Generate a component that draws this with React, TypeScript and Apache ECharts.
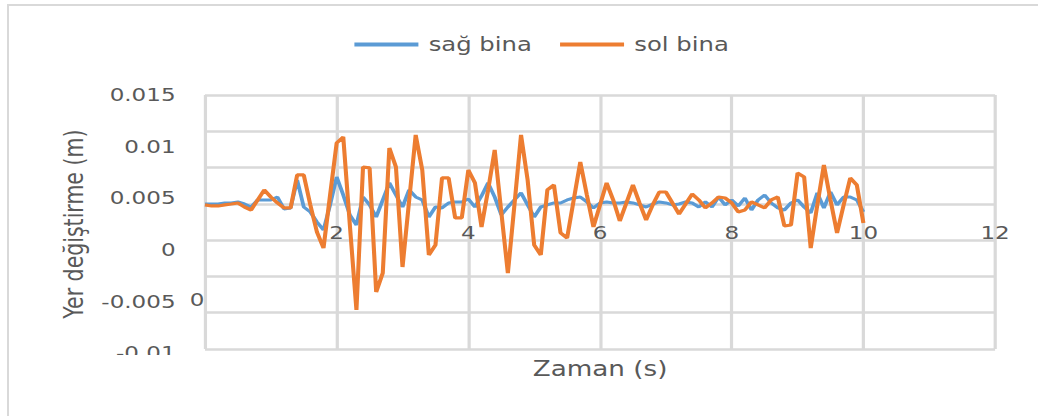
import React, { useEffect, useRef } from "react";
import * as echarts from "echarts";

const TIME = [
  0, 0.1, 0.2, 0.3, 0.4, 0.5, 0.6, 0.7, 0.8, 0.9,
  1, 1.1, 1.2, 1.3, 1.4, 1.5, 1.6, 1.7, 1.8, 1.9,
  2, 2.1, 2.2, 2.3, 2.4, 2.5, 2.6, 2.7, 2.8, 2.9,
  3, 3.1, 3.2, 3.3, 3.4, 3.5, 3.6, 3.7, 3.8, 3.9,
  4, 4.1, 4.2, 4.3, 4.4, 4.5, 4.6, 4.7, 4.8, 4.9,
  5, 5.1, 5.2, 5.3, 5.4, 5.5, 5.6, 5.7, 5.8, 5.9,
  6, 6.1, 6.2, 6.3, 6.4, 6.5, 6.6, 6.7, 6.8, 6.9,
  7, 7.1, 7.2, 7.3, 7.4, 7.5, 7.6, 7.7, 7.8, 7.9,
  8, 8.1, 8.2, 8.3, 8.4, 8.5, 8.6, 8.7, 8.8, 8.9,
  9, 9.1, 9.2, 9.3, 9.4, 9.5, 9.6, 9.7, 9.8, 9.9,
  10,
];

const SAG_BINA = [
  0.00445, 0.00445, 0.00445, 0.00455, 0.00455, 0.00465, 0.00445, 0.00416, 0.00484, 0.00484,
  0.00484, 0.00513, 0.00397, 0.00407, 0.00678, 0.00416, 0.00368, 0.00271, 0.00194, 0.00436,
  0.00707, 0.00532, 0.00339, 0.00242, 0.00513, 0.00436, 0.00319, 0.00484, 0.00649, 0.00532,
  0.00416, 0.00581, 0.00513, 0.00484, 0.00319, 0.00416, 0.00407, 0.00455, 0.00465, 0.00465,
  0.00494, 0.00416, 0.00523, 0.00649, 0.00513, 0.00339, 0.00416, 0.00484, 0.00552, 0.00436,
  0.00319, 0.00416, 0.00436, 0.00455, 0.00455, 0.00484, 0.00503, 0.00513, 0.00465, 0.00407,
  0.00455, 0.00465, 0.00455, 0.00455, 0.00465, 0.00455, 0.00436, 0.00416, 0.00445, 0.00465,
  0.00455, 0.00436, 0.00445, 0.00465, 0.00455, 0.00416, 0.00465, 0.00416, 0.00513, 0.00436,
  0.00484, 0.00426, 0.00503, 0.00387, 0.00484, 0.00532, 0.00455, 0.00407, 0.00387, 0.00455,
  0.00484, 0.00416, 0.00358, 0.00552, 0.00407, 0.00561, 0.00436, 0.00513, 0.00513, 0.00484,
  0.00368,
];

const SOL_BINA = [
  0.00436, 0.00426, 0.00426, 0.00436, 0.00445, 0.00455, 0.00416, 0.00387, 0.00484, 0.00581,
  0.00513, 0.00455, 0.00407, 0.00407, 0.00726, 0.00726, 0.00436, 0.00174, 0.00019, 0.00532,
  0.01036, 0.01094, 0.00242, -0.00581, 0.00803, 0.00794, -0.00407, -0.00223, 0.00987, 0.00803,
  -0.00165, 0.00474, 0.01113, 0.00774, -0.00048, 0.00048, 0.00697, 0.00697, 0.0031, 0.0031,
  0.00774, 0.00649, 0.00223, 0.00581, 0.00968, 0.00368, -0.00223, 0.00436, 0.01113, 0.00678,
  0.00048, -0.00048, 0.00581, 0.00629, 0.00165, 0.00116, 0.00484, 0.00852, 0.00532, 0.00223,
  0.00436, 0.00649, 0.00484, 0.00281, 0.00455, 0.00629, 0.00455, 0.0029, 0.00436, 0.00561,
  0.00561, 0.00455, 0.00348, 0.00445, 0.00542, 0.00484, 0.00407, 0.00455, 0.00513, 0.00503,
  0.00455, 0.00368, 0.00387, 0.00465, 0.00436, 0.00407, 0.00484, 0.00513, 0.00232, 0.00242,
  0.00745, 0.00707, 0.00019, 0.00436, 0.00823, 0.00484, 0.00165, 0.00436, 0.00697, 0.00629,
  0.00261,
];

const SERIES_NAMES = ["sağ bina", "sol bina"];
const Y_TICK_LABELS = ["-0.01", "-0.005", "0", "0.005", "0.01", "0.015"];
const X_TICK_LABELS = ["0", "2", "4", "6", "8", "10", "12"];
const X_TITLE = "Zaman (s)";
const Y_TITLE = "Yer değiştirme (m)";

const SX = 1.28;
const PAGE_W = 1038;
const PAGE_H = 416;
const W = PAGE_W / SX;

export default function App() {
  const ref = useRef<HTMLDivElement>(null);
  useEffect(() => {
    if (!ref.current) return;
    const chart = echarts.init(ref.current, undefined, { renderer: "svg" });
    const font = "'DejaVu Sans', sans-serif";
    const textColor = "#595959";
    const gridColor = "#d9d9d9";
    const gridLeft = 205 / SX;
    const gridRight = W - 995 / SX;
    chart.setOption({
      animation: false,
      textStyle: { fontFamily: font },
      legend: {
        left: 348 / SX,
        top: 30,
        itemWidth: 50,
        itemHeight: 4,
        itemGap: 22,
        icon: "rect",
        data: SERIES_NAMES,
        textStyle: { fontSize: 19, color: textColor, fontFamily: font, padding: [0, 0, 0, 3] },
      },
      grid: [
        { left: gridLeft, right: gridRight, top: 95, height: 258.3 },
        { left: gridLeft, right: gridRight, top: 95, height: 254 },
      ],
      xAxis: [
        {
          gridIndex: 0,
          type: "value",
          min: 0,
          max: 12,
          interval: 2,
          axisLine: { show: false },
          axisTick: { show: false },
          axisLabel: { show: false },
          splitLine: { show: false },
          name: X_TITLE,
          nameLocation: "middle",
          nameGap: 5,
          nameTextStyle: { fontSize: 20.5, color: textColor, fontFamily: font },
        },
        {
          gridIndex: 1,
          type: "value",
          min: 0,
          max: 12,
          interval: 2,
          offset: -133,
          axisLine: { show: false },
          axisTick: { show: false },
          axisLabel: {
            margin: 8,
            fontSize: 18,
            color: textColor,
            fontFamily: font,
            formatter: (v: number) => (v === 0 ? "" : X_TICK_LABELS[Math.round(v / 2)]),
          },
          splitLine: { show: true, lineStyle: { color: gridColor, width: 2.5 } },
        },
      ],
      yAxis: [
        {
          gridIndex: 0,
          type: "value",
          min: -0.01,
          max: 0.015,
          interval: 0.005,
          axisLine: { show: false },
          axisTick: { show: false },
          splitLine: { show: false },
          axisLabel: {
            margin: 23,
            fontSize: 18,
            color: textColor,
            fontFamily: font,
            formatter: (v: number) => Y_TICK_LABELS[Math.round((v + 0.01) / 0.005)],
          },
          name: Y_TITLE,
          nameLocation: "middle",
          nameGap: 92,
          nameTextStyle: { fontSize: 20.5, color: textColor, fontFamily: font },
        },
        {
          gridIndex: 1,
          type: "value",
          min: 0,
          max: 7,
          interval: 1,
          axisLine: { show: false },
          axisTick: { show: false },
          axisLabel: { show: false },
          splitLine: { show: true, lineStyle: { color: gridColor, width: 2.5 } },
        },
      ],
      series: [
        {
          name: SERIES_NAMES[0],
          type: "line",
          xAxisIndex: 0,
          yAxisIndex: 0,
          showSymbol: false,
          symbol: "none",
          data: TIME.map((t, i) => [t, SAG_BINA[i]]),
          itemStyle: { color: "#5b9bd5" },
          lineStyle: { color: "#5b9bd5", width: 3 },
          z: 3,
        },
        {
          name: SERIES_NAMES[1],
          type: "line",
          xAxisIndex: 0,
          yAxisIndex: 0,
          showSymbol: false,
          symbol: "none",
          data: TIME.map((t, i) => [t, SOL_BINA[i]]),
          itemStyle: { color: "#ed7d31" },
          lineStyle: { color: "#ed7d31", width: 3.2 },
          z: 4,
        },
      ],
      graphic: [
        {
          type: "text",
          x: 197 / SX,
          y: 300,
          z: 50,
          style: {
            text: X_TICK_LABELS[0],
            fontSize: 18,
            fontFamily: font,
            fill: textColor,
            align: "center",
            verticalAlign: "middle",
          },
        },
        {
          type: "rect",
          z: 100,
          shape: { x: 70, y: 355, width: 88, height: 22 },
          style: { fill: "#ffffff" },
        },
      ],
    });
    return () => chart.dispose();
  }, []);
  return (
    <div
      style={{
        position: "fixed",
        left: 0,
        top: 0,
        width: PAGE_W,
        height: PAGE_H,
        overflow: "hidden",
        background: "#ffffff",
      }}
    >
      <div
        style={{
          position: "absolute",
          left: 7,
          top: 4,
          width: 1200,
          height: 600,
          border: "2px solid #d9d9d9",
          boxSizing: "border-box",
        }}
      />
      <div
        ref={ref}
        style={{
          position: "absolute",
          left: 0,
          top: 0,
          width: W,
          height: PAGE_H,
          transform: `scaleX(${SX})`,
          transformOrigin: "0 0",
        }}
      />
    </div>
  );
}
